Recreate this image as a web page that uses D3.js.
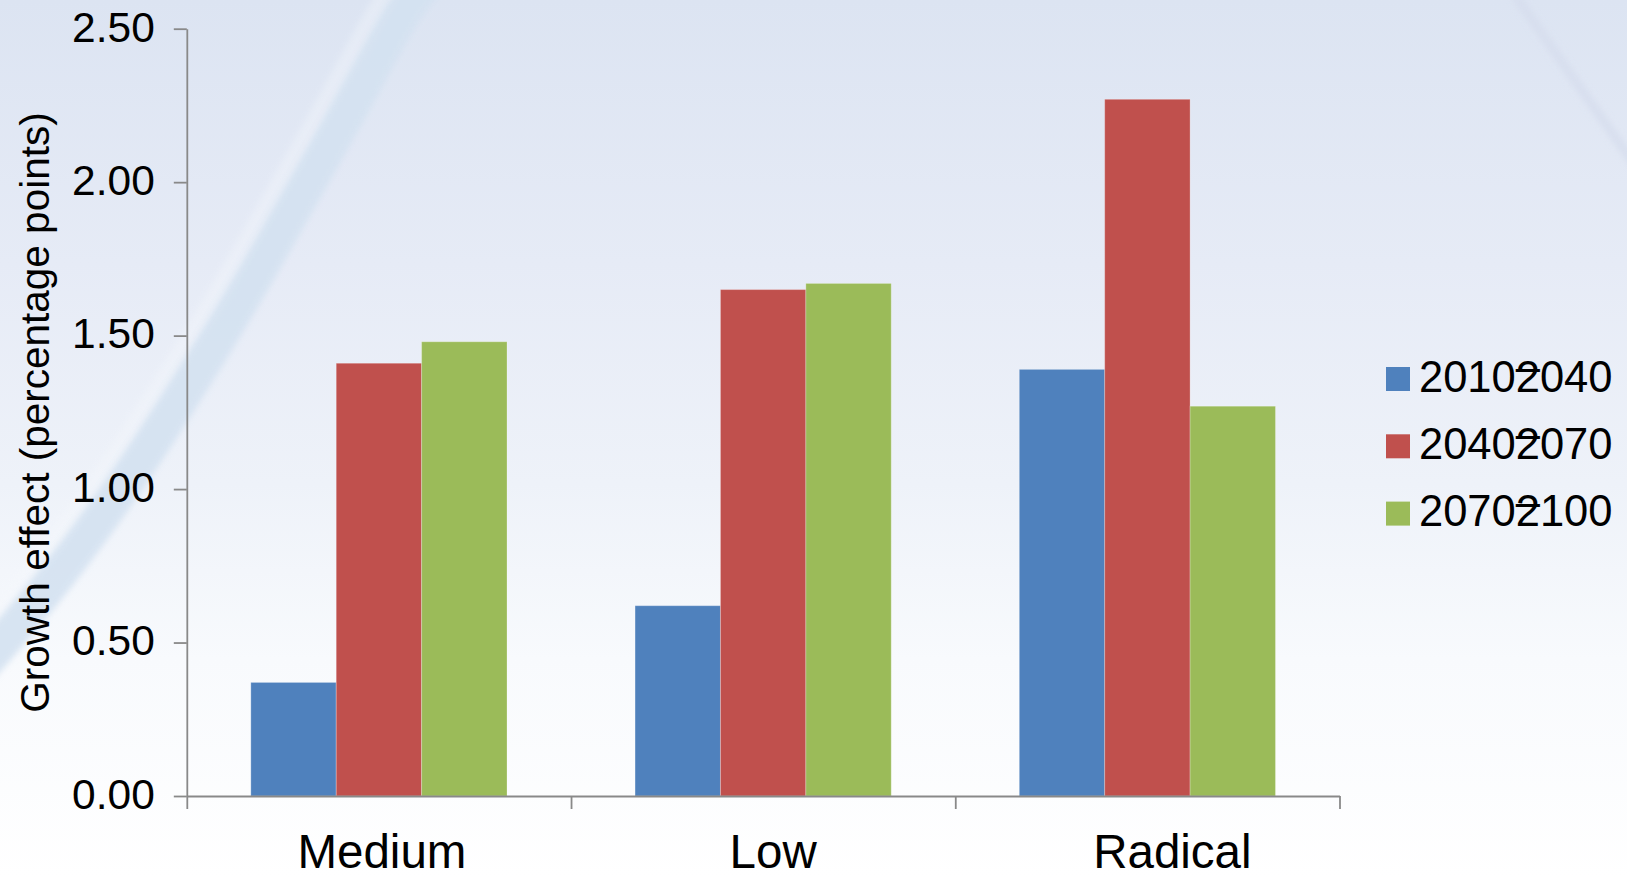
<!DOCTYPE html>
<html>
<head>
<meta charset="utf-8">
<script src="https://cdn.jsdelivr.net/npm/d3@7"></script>
<style>
  html, body { margin: 0; padding: 0; background: #ffffff; }
  svg { display: block; }
  text { font-family: "Liberation Sans", Arial, sans-serif; fill: #000; }
</style>
</head>
<body>
<svg id="chart" width="1627" height="879"></svg>
<script>
// Growth effect by scenario and period (percentage points)
const categories = ["Medium", "Low", "Radical"];
const periodLabels = ["2010–2040", "2040–2070", "2070–2100"];
const seriesColors = ["#4f81bd", "#c0504d", "#9bbb59"];
const values2010_2040 = [0.37, 0.62, 1.39];
const values2040_2070 = [1.41, 1.65, 2.27];
const values2070_2100 = [1.48, 1.67, 1.27];
const yTicks = [0, 0.5, 1.0, 1.5, 2.0, 2.5];
const yTitle = "Growth effect (percentage points)";

const seriesValues = [values2010_2040, values2040_2070, values2070_2100];

const W = 1627, H = 879;
const plot = { left: 186.8, right: 1339.5, top: 28.7, bottom: 796 };
// horizontal nudges applied to the category labels
const labelNudge = [3, 10, 25];

const svg = d3.select("#chart");
const defs = svg.append("defs");

// soft background gradient
const grad = defs.append("linearGradient")
  .attr("id", "bg").attr("x1", 0).attr("y1", 0).attr("x2", 0).attr("y2", 1);
[[0, "#dce4f2"], [0.3, "#e6ebf6"], [0.55, "#eef2f9"], [0.75, "#f8fafd"], [1, "#ffffff"]]
  .forEach(([o, c]) => grad.append("stop").attr("offset", o).attr("stop-color", c));

defs.append("filter").attr("id", "soft")
  .append("feGaussianBlur").attr("stdDeviation", 3);

svg.append("rect").attr("width", W).attr("height", H).attr("fill", "url(#bg)");

// decorative swoosh across the left side
const swoosh = d3.line().curve(d3.curveBasis);
const swooshPts = [[430, -20], [408, 0], [355, 100], [298, 200], [242, 300], [180, 400], [115, 500], [40, 600], [-40, 690]];
svg.append("path")
  .attr("d", swoosh(swooshPts.map(p => [p[0] - 20, p[1] - 10])))
  .attr("fill", "none").attr("stroke", "#f5f8fc").attr("stroke-width", 22)
  .attr("opacity", 0.35).attr("filter", "url(#soft)");
svg.append("path")
  .attr("d", swoosh(swooshPts))
  .attr("fill", "none").attr("stroke", "#d4e2f1").attr("stroke-width", 36)
  .attr("opacity", 0.9).attr("filter", "url(#soft)");

// faint line in the top-right corner
svg.append("path")
  .attr("d", swoosh([[1515, -5], [1560, 60], [1635, 165]]))
  .attr("fill", "none").attr("stroke", "#d6dded").attr("stroke-width", 9)
  .attr("opacity", 0.8).attr("filter", "url(#soft)");

// scales
const x0 = d3.scaleBand().domain(categories).range([plot.left, plot.right]).padding(0);
const x1 = d3.scaleBand().domain(d3.range(periodLabels.length))
  .range([0, x0.bandwidth()]).paddingInner(0).paddingOuter(0.75);
const y = d3.scaleLinear().domain([0, 2.5]).range([plot.bottom, plot.top]);

// bars
const groups = svg.append("g").selectAll("g")
  .data(categories).join("g")
  .attr("transform", d => `translate(${x0(d)},0)`);

groups.selectAll("rect")
  .data((c, ci) => seriesValues.map((vals, si) => ({ si, v: vals[ci] })))
  .join("rect")
  .attr("x", d => x1(d.si))
  .attr("y", d => y(d.v))
  .attr("width", x1.bandwidth())
  .attr("height", d => y(0) - y(d.v))
  .attr("fill", d => seriesColors[d.si])
  .attr("stroke", "#ffffff").attr("stroke-opacity", 0.25).attr("stroke-width", 1);

const axisColor = "#898989";

// y axis
const yAxis = svg.append("g")
  .attr("transform", `translate(${plot.left},0)`)
  .call(d3.axisLeft(y).tickValues(yTicks).tickFormat(d3.format(".2f"))
    .tickSize(13).tickPadding(19).tickSizeOuter(0));
yAxis.select(".domain").attr("stroke", axisColor).attr("stroke-width", 1.8);
yAxis.selectAll(".tick line").attr("stroke", axisColor).attr("stroke-width", 1.8);
yAxis.selectAll(".tick text")
  .attr("font-size", 42.5).attr("dy", "0.29em")
  .style("font-family", "'Liberation Sans', Arial, sans-serif").attr("fill", "#000");

// x axis line with ticks at category boundaries
const xEdge = d3.scaleLinear().domain([0, categories.length]).range([plot.left, plot.right]);
const xAxis = svg.append("g")
  .attr("transform", `translate(0,${plot.bottom})`)
  .call(d3.axisBottom(xEdge).tickValues(d3.range(categories.length + 1))
    .tickFormat("").tickSize(13).tickSizeOuter(0));
xAxis.select(".domain").attr("stroke", axisColor).attr("stroke-width", 1.8);
xAxis.selectAll(".tick line").attr("stroke", axisColor).attr("stroke-width", 1.8);

// category labels
const xLabels = svg.append("g")
  .attr("transform", `translate(0,${plot.bottom})`)
  .call(d3.axisBottom(x0).tickSize(0).tickPadding(0));
xLabels.select(".domain").remove();
xLabels.selectAll(".tick text")
  .attr("font-size", 47.5).attr("y", 72).attr("dy", 0)
  .attr("x", (d, i) => labelNudge[i])
  .style("font-family", "'Liberation Sans', Arial, sans-serif").attr("fill", "#000");

// y axis title
svg.append("text")
  .attr("transform", `translate(49,${(114 + 711) / 2}) rotate(-90)`)
  .attr("text-anchor", "middle")
  .attr("font-size", 40.5)
  .text(yTitle);

// legend: the dash is tucked into the second year, as set in the source figure
const legendFont = 43.5;
const digitAdv = 0.556 * legendFont;
function glyphX(label) {
  const xs = [];
  let pen = 0;
  for (const ch of label) {
    if (ch === "–") { xs.push(pen); continue; }   // zero-advance dash
    xs.push(pen);
    pen += digitAdv;
  }
  return xs.map(v => (33 + v).toFixed(2)).join(" ");
}
function glyphDy(label) {
  const lift = 0.22 * legendFont;
  return Array.from(label).map((ch, i, arr) =>
    ch === "–" ? -lift : (arr[i - 1] === "–" ? lift : 0)).join(" ");
}
const legend = svg.append("g").attr("transform", "translate(1386,367)");
const rows = legend.selectAll("g").data(periodLabels).join("g")
  .attr("transform", (d, i) => `translate(0,${i * 67.3})`);
rows.append("rect")
  .attr("width", 24).attr("height", 24)
  .attr("fill", (d, i) => seriesColors[i]);
rows.append("text")
  .attr("x", d => glyphX(d))
  .attr("y", 24.5)
  .attr("dy", d => glyphDy(d))
  .attr("font-size", legendFont)
  .text(d => d);
</script>
</body>
</html>
